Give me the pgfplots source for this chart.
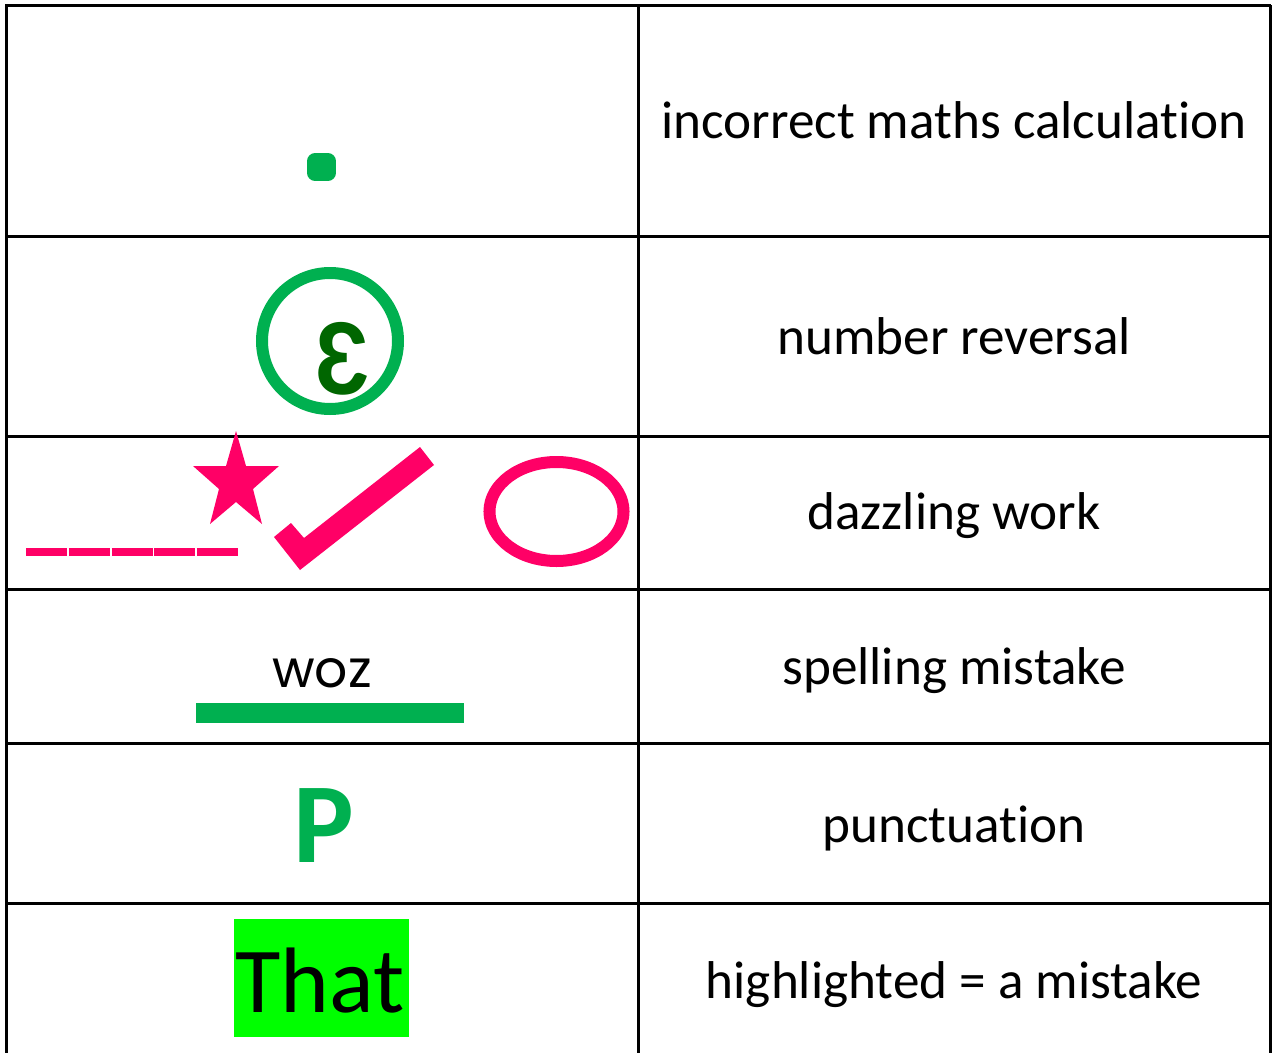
\documentclass[border=0pt]{standalone}
\usepackage{graphicx}
\usepackage{fontspec}
\setmainfont[RawFeature=-liga]{Carlito}
\newfontfamily\popfont{Poppins}
\usepackage{pgfplots}
\pgfplotsset{compat=1.18}
\definecolor{mypink}{HTML}{FF0066}
\definecolor{mygreen}{HTML}{00B050}
\definecolor{mydkgreen}{HTML}{006600}
\definecolor{myhl}{HTML}{00FF00}
\newcommand{\rt}{\fontsize{26.6}{32}\selectfont}
\begin{document}
\begin{tikzpicture}
\begin{axis}[x=0.5pt, y=0.5pt, y dir=reverse,
  xmin=0, xmax=1276, ymin=0, ymax=1053,
  hide axis, clip=false]
% invisible corners
\addplot[draw=none, mark=none] coordinates {(0,0)(1276,1053)};
% highlight box
\addplot[fill=myhl, draw=none, mark=none] coordinates {(234,919)(409,919)(409,1037)(234,1037)};
% grid lines
\addplot[black, line width=1.5pt, mark=none] coordinates {(6,5)(6,1053)};
\addplot[black, line width=1.5pt, mark=none] coordinates {(638,5)(638,1053)};
\addplot[black, line width=1.5pt, mark=none] coordinates {(1270,5)(1270,1053)};
\addplot[black, line width=1.5pt, mark=none] coordinates {(5,5)(1271,5)};
\addplot[black, line width=1.5pt, mark=none] coordinates {(5,236)(1271,236)};
\addplot[black, line width=1.5pt, mark=none] coordinates {(5,436)(1271,436)};
\addplot[black, line width=1.5pt, mark=none] coordinates {(5,589)(1271,589)};
\addplot[black, line width=1.5pt, mark=none] coordinates {(5,743)(1271,743)};
\addplot[black, line width=1.5pt, mark=none] coordinates {(5,903)(1271,903)};
% row 1: rounded dot
\addplot[fill=mygreen, draw=mygreen, line width=8pt, line join=round, mark=none]
  coordinates {(315,161.3)(328,161.3)(328,172.7)(315,172.7)} --cycle;
% row 2: circle
\addplot[only marks, mark=o, mark size=34pt, color=mygreen,
  mark options={line width=6pt}] coordinates {(330,341)};
% row 3: dashes
\addplot[mypink, line width=3.75pt, mark=none] coordinates {(26,552)(67,552)};
\addplot[mypink, line width=3.75pt, mark=none] coordinates {(68.5,552)(110,552)};
\addplot[mypink, line width=3.75pt, mark=none] coordinates {(111.5,552)(152.5,552)};
\addplot[mypink, line width=3.75pt, mark=none] coordinates {(154,552)(195,552)};
\addplot[mypink, line width=3.75pt, mark=none] coordinates {(196.5,552)(238,552)};
% star
\addplot[fill=mypink, draw=none, mark=none] coordinates {(236,431)(246,466)(279,466)(253,489)(262,524)(236,502)(210,524)(219,489)(193,466)(226,466)};
% tick mark
\addplot[fill=mypink, draw=none, mark=none] coordinates {(420,447)(434,465)(300,570)(274,537)(291,523)(304,538)};
% ellipse
\addplot[only marks, mark=o, mark size=24.75pt, color=mypink,
  mark options={line width=6pt, xscale=1.354}] coordinates {(556.5,511.5)};
% row 4: underline
\addplot[mygreen, line width=10pt, mark=none] coordinates {(196,713)(464,713)};
% texts left column
\node[anchor=base, text=mydkgreen, inner sep=0pt] at (axis cs:344,394) {\fontsize{55}{60}\selectfont\bfseries\reflectbox{3}};
\node[anchor=base, inner sep=0pt] at (axis cs:322,687) {\popfont\fontsize{26}{30}\selectfont woz};
\node[anchor=base, text=mygreen, inner sep=0pt] at (axis cs:324,862) {\fontsize{57}{62}\selectfont\bfseries P};
\node[anchor=base, inner sep=0pt] at (axis cs:320,1012) {\fontsize{46.5}{50}\selectfont That};
% texts right column
\node[anchor=base, inner sep=0pt] at (axis cs:954,138) {\rt incorrect maths calculation};
\node[anchor=base, inner sep=0pt] at (axis cs:954,354) {\rt number reversal};
\node[anchor=base, inner sep=0pt] at (axis cs:954,529) {\rt dazzling work};
\node[anchor=base, inner sep=0pt] at (axis cs:954,684) {\rt spelling mistake};
\node[anchor=base, inner sep=0pt] at (axis cs:954,842) {\rt punctuation};
\node[anchor=base, inner sep=0pt] at (axis cs:954,998) {\rt highlighted = a mistake};
\end{axis}
\end{tikzpicture}
\end{document}
